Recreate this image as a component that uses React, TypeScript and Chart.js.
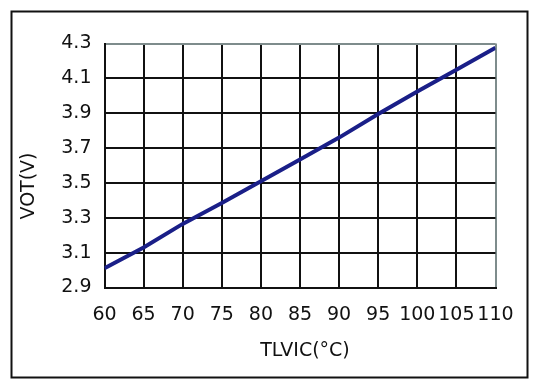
import React, { useEffect, useRef } from "react";
import { Chart, registerables } from "chart.js";

Chart.register(...registerables);

const temps = [60, 65, 70, 75, 80, 85, 90, 95, 100, 105, 110];
const vot = [3.01, 3.13, 3.265, 3.385, 3.51, 3.635, 3.76, 3.895, 4.025, 4.15, 4.275];
const xTickValues = [60, 65, 70, 75, 80, 85, 90, 95, 100, 105, 110];
const yTickValues = [2.9, 3.1, 3.3, 3.5, 3.7, 3.9, 4.1, 4.3];
const xTitle = "TLVIC(°C)";
const yTitle = "VOT(V)";

const FONT = "'DejaVu Sans', sans-serif";

const framePlugin = {
  id: "frame",
  beforeDraw(chart: any) {
    const ctx = chart.ctx;
    ctx.save();
    ctx.fillStyle = "#ffffff";
    ctx.fillRect(0, 0, chart.width, chart.height);
    ctx.strokeStyle = "#111111";
    ctx.lineWidth = 2;
    ctx.strokeRect(11.5, 11.5, 516, 366);
    ctx.restore();
  },
  afterDraw(chart: any) {
    const ctx = chart.ctx;
    const a = chart.chartArea;
    ctx.save();
    ctx.fillStyle = "#111111";
    ctx.font = `19px ${FONT}`;
    ctx.textAlign = "center";
    ctx.textBaseline = "middle";
    ctx.fillText(xTitle, (a.left + a.right) / 2 + 5, 351);
    ctx.translate(29.5, 186);
    ctx.rotate(-Math.PI / 2);
    ctx.fillText(yTitle, 0, 0);
    ctx.restore();
  },
};

export default function App() {
  const ref = useRef<HTMLCanvasElement>(null);
  useEffect(() => {
    if (!ref.current) return;
    const chart = new Chart(ref.current, {
      type: "line",
      data: {
        datasets: [
          {
            data: temps.map((t, i) => ({ x: t, y: vot[i] })),
            borderColor: "#1a1f88",
            borderWidth: 4,
            pointRadius: 0,
            tension: 0,
            fill: false,
          },
        ],
      },
      options: {
        responsive: false,
        animation: false,
        devicePixelRatio: 1,
        layout: { padding: { left: 0, right: 44.5, top: 43.5, bottom: 0 } },
        plugins: { legend: { display: false }, tooltip: { enabled: false } },
        scales: {
          x: {
            type: "linear",
            min: 60,
            max: 110,
            afterBuildTicks(scale: any) {
              scale.ticks = xTickValues.map((v) => ({ value: v }));
            },
            afterFit(scale: any) {
              scale.height = 100.5;
            },
            ticks: {
              autoSkip: false,
              maxRotation: 0,
              padding: 16,
              color: "#111111",
              font: { size: 19, family: FONT },
              callback: (v: any) => String(v),
            },
            grid: {
              drawTicks: false,
              lineWidth: 2,
              color: (c: any) => (c.tick && c.tick.value === 110 ? "#7e8c8c" : "#111111"),
            },
            border: { display: true, color: "#111111", width: 2 },
          },
          y: {
            type: "linear",
            min: 2.9,
            max: 4.3,
            afterBuildTicks(scale: any) {
              scale.ticks = yTickValues.map((v) => ({ value: v }));
            },
            afterFit(scale: any) {
              scale.width = 104.5;
            },
            ticks: {
              autoSkip: false,
              padding: 13,
              color: "#111111",
              font: { size: 19, family: FONT },
              callback: (v: any) => Number(v).toFixed(1),
            },
            grid: {
              drawTicks: false,
              lineWidth: 2,
              color: (c: any) =>
                c.tick && Math.abs(c.tick.value - 4.3) < 1e-6 ? "#7e8c8c" : "#111111",
            },
            border: { display: true, color: "#111111", width: 2 },
          },
        },
      },
      plugins: [framePlugin],
    });
    return () => chart.destroy();
  }, []);
  return (
    <div style={{ position: "absolute", left: 0, top: 0, width: 540, height: 388 }}>
      <canvas ref={ref} width={540} height={388} style={{ width: 540, height: 388, display: "block" }} />
    </div>
  );
}
